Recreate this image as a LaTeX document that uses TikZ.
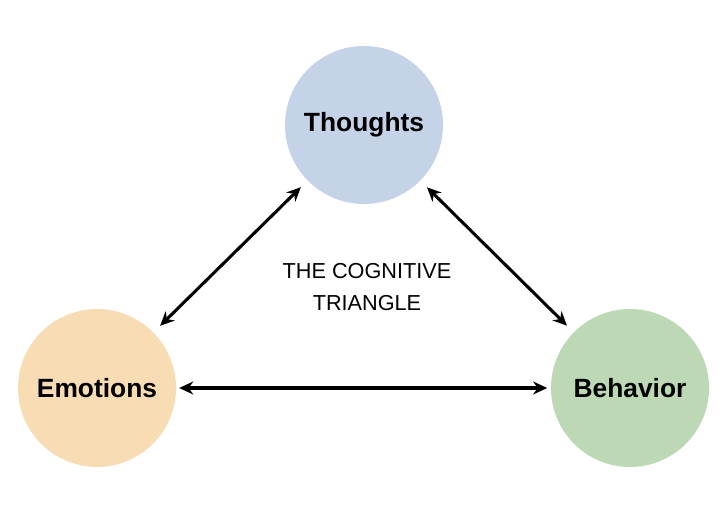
\documentclass[tikz,border=0pt]{standalone}
\usepackage{fontspec}
\setmainfont{Liberation Sans}
\usetikzlibrary{arrows.meta,positioning}

\definecolor{thoughtblue}{HTML}{C5D3E8}
\definecolor{emotionorange}{HTML}{F8DDB4}
\definecolor{behaviorgreen}{HTML}{BCD8B4}

\begin{document}
\begin{tikzpicture}[x=0.03cm,y=-0.03cm,
    bubble/.style={circle, minimum size=4.74cm, inner sep=0pt,
        font=\fontsize{22.5}{27}\selectfont\bfseries},
    link/.style={{Stealth[length=12pt,width=11pt]}-{Stealth[length=12pt,width=11pt]},
        line width=2.6pt}]
    \useasboundingbox (0,0) rectangle (723,517);

    % Circles
    \node[bubble, fill=thoughtblue] (thoughts) at (364,125) {Thoughts};
    \node[bubble, fill=emotionorange] (emotions) at (97,388) {Emotions};
    \node[bubble, fill=behaviorgreen] (behavior) at (630,388) {Behavior};

    % Title in the middle
    \node[font=\fontsize{18.5}{28}\selectfont, align=center] (title) at (367,287)
        {THE COGNITIVE\\TRIANGLE};

    % Arrows
    \draw[link, shorten <=8pt, shorten >=8pt] (thoughts) -- (emotions);
    \draw[link, shorten <=8pt, shorten >=8pt] (thoughts) -- (behavior);
    \draw[link, shorten <=2.5pt, shorten >=3pt] (emotions) -- (behavior);
\end{tikzpicture}
\end{document}
